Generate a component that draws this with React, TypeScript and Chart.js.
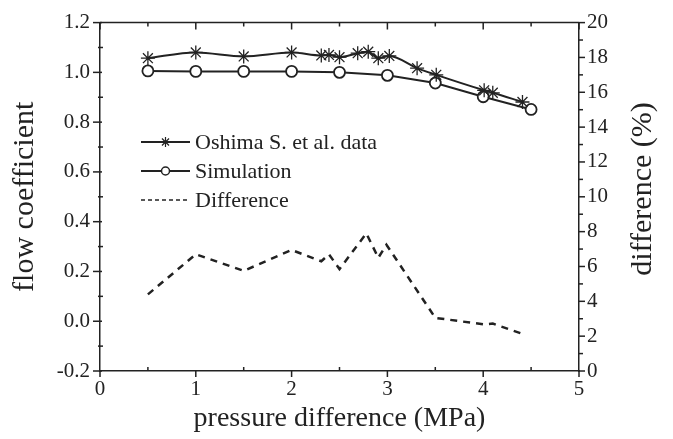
import React, { useEffect, useRef } from "react";
import { Chart, registerables } from "chart.js";

Chart.register(...registerables);

const pressureOshima = [0.5, 1.0, 1.5, 2.0, 2.31, 2.39, 2.5, 2.69, 2.8, 2.905, 3.02, 3.31, 3.51, 4.01, 4.1, 4.41];
const flowOshima = [1.057, 1.08, 1.064, 1.08, 1.068, 1.07, 1.061, 1.077, 1.083, 1.057, 1.066, 1.017, 0.99, 0.928, 0.918, 0.881];

const pressureSim = [0.5, 1.0, 1.5, 2.0, 2.5, 3.0, 3.5, 4.0, 4.5];
const flowSim = [1.006, 1.004, 1.004, 1.004, 1.0, 0.988, 0.957, 0.902, 0.851];

const pressureDiff = [0.5, 1.0, 1.5, 2.0, 2.31, 2.39, 2.5, 2.78, 2.905, 2.99, 3.5, 4.0, 4.1, 4.4];
const diffPct = [4.4, 6.7, 5.75, 6.95, 6.3, 6.7, 5.85, 7.9, 6.5, 7.25, 3.05, 2.68, 2.72, 2.15];

const legendLabels = ["Oshima S. et al. data", "Simulation", "Difference"];
const xTitle = "pressure difference (MPa)";
const yTitle = "flow coefficient";
const y1Title = "difference (%)";

const INK = "#222";
const FONT = "'Liberation Serif', 'Times New Roman', serif";

const zip = (xs: number[], ys: number[]) => xs.map((x, i) => ({ x, y: ys[i] }));

const decorPlugin = {
  id: "decor",
  afterDraw(chart: any) {
    const ctx = chart.ctx;
    const { x, y, y1 } = chart.scales;
    const area = chart.chartArea;
    ctx.save();
    ctx.strokeStyle = INK;
    ctx.lineWidth = 1.5;
    // top border
    ctx.beginPath();
    ctx.moveTo(area.left, area.top);
    ctx.lineTo(area.right, area.top);
    ctx.stroke();
    // x ticks (bottom & top)
    for (let i = 0; i <= 10; i++) {
      const v = i * 0.5;
      const px = x.getPixelForValue(v);
      const major = i % 2 === 0;
      ctx.beginPath();
      if (major) {
        ctx.moveTo(px, area.bottom);
        ctx.lineTo(px, area.bottom + 6);
        ctx.moveTo(px, area.top);
        ctx.lineTo(px, area.top + 7);
      } else {
        ctx.moveTo(px, area.bottom);
        ctx.lineTo(px, area.bottom - 4);
        ctx.moveTo(px, area.top);
        ctx.lineTo(px, area.top + 4);
      }
      ctx.stroke();
    }
    // left ticks
    for (let i = 0; i <= 14; i++) {
      const v = -0.2 + i * 0.1;
      const py = y.getPixelForValue(v);
      const major = i % 2 === 0;
      ctx.beginPath();
      if (major) {
        ctx.moveTo(area.left - 7, py);
        ctx.lineTo(area.left + 2, py);
      } else {
        ctx.moveTo(area.left - 2, py);
        ctx.lineTo(area.left + 3, py);
      }
      ctx.stroke();
    }
    // right ticks
    for (let i = 0; i <= 20; i++) {
      const py = y1.getPixelForValue(i);
      const major = i % 2 === 0;
      ctx.beginPath();
      ctx.moveTo(area.right, py);
      ctx.lineTo(area.right + (major ? 6 : 4), py);
      ctx.stroke();
    }
    // right axis title (reads bottom to top)
    ctx.save();
    ctx.translate(643, 189);
    ctx.rotate(-Math.PI / 2);
    ctx.font = `30px ${FONT}`;
    ctx.fillStyle = INK;
    ctx.textAlign = "center";
    ctx.textBaseline = "middle";
    ctx.fillText(y1Title, 0, 0);
    ctx.restore();
    // legend
    const rows = [142, 171, 200];
    const x0 = 141;
    const x1 = 190;
    const xm = (x0 + x1) / 2;
    ctx.font = `22px ${FONT}`;
    ctx.fillStyle = INK;
    ctx.textBaseline = "middle";
    ctx.textAlign = "left";
    rows.forEach((ry, i) => {
      ctx.beginPath();
      ctx.lineWidth = i === 2 ? 1.5 : 2;
      ctx.setLineDash(i === 2 ? [4, 3] : []);
      ctx.moveTo(x0, ry);
      ctx.lineTo(x1, ry);
      ctx.stroke();
      ctx.setLineDash([]);
      ctx.lineWidth = 1.2;
      if (i === 0) {
        const r = 5;
        ctx.beginPath();
        for (let k = 0; k < 4; k++) {
          const a = (k * Math.PI) / 4;
          ctx.moveTo(xm - r * Math.cos(a), ry - r * Math.sin(a));
          ctx.lineTo(xm + r * Math.cos(a), ry + r * Math.sin(a));
        }
        ctx.stroke();
      } else if (i === 1) {
        ctx.beginPath();
        ctx.arc(xm, ry, 4, 0, Math.PI * 2);
        ctx.fillStyle = "#fff";
        ctx.fill();
        ctx.lineWidth = 1.5;
        ctx.stroke();
        ctx.fillStyle = INK;
      }
      ctx.fillText(legendLabels[i], 195, ry + 1);
    });
    ctx.restore();
  },
};

export default function App() {
  const ref = useRef<HTMLCanvasElement>(null);
  useEffect(() => {
    document.body.style.margin = "0";
    const tickFont = { family: FONT, size: 21 };
    const chart = new Chart(ref.current as HTMLCanvasElement, {
      type: "line",
      data: {
        datasets: [
          {
            label: legendLabels[0],
            data: zip(pressureOshima, flowOshima),
            borderColor: INK,
            backgroundColor: INK,
            borderWidth: 2,
            pointStyle: "star",
            pointRadius: 7,
            pointBorderWidth: 1.3,
            pointBorderColor: INK,
            cubicInterpolationMode: "monotone",
            yAxisID: "y",
          },
          {
            label: legendLabels[1],
            data: zip(pressureSim, flowSim),
            borderColor: INK,
            backgroundColor: "#fff",
            borderWidth: 2,
            pointStyle: "circle",
            pointRadius: 5.5,
            pointBorderWidth: 1.8,
            pointBackgroundColor: "#fff",
            pointBorderColor: INK,
            tension: 0,
            yAxisID: "y",
          },
          {
            label: legendLabels[2],
            data: zip(pressureDiff, diffPct),
            borderColor: INK,
            borderWidth: 2.5,
            borderDash: [7, 6],
            pointRadius: 0,
            tension: 0,
            yAxisID: "y1",
          },
        ],
      },
      options: {
        animation: false,
        responsive: true,
        maintainAspectRatio: false,
        layout: { padding: { top: 19, left: 0, right: 0, bottom: 0 } },
        plugins: { legend: { display: false }, tooltip: { enabled: false } },
        scales: {
          x: {
            type: "linear",
            min: 0,
            max: 5,
            ticks: { stepSize: 1, font: tickFont, color: INK, padding: 6 },
            grid: { display: false, drawTicks: false },
            border: { display: true, color: INK, width: 1.5 },
            title: {
              display: true,
              text: xTitle,
              font: { family: FONT, size: 28 },
              color: INK,
              padding: { top: 0, bottom: 4 },
            },
            afterFit: (s: any) => {
              s.height = 68;
            },
          },
          y: {
            type: "linear",
            position: "left",
            min: -0.2,
            max: 1.2,
            ticks: {
              stepSize: 0.2,
              font: tickFont,
              color: INK,
              padding: 10,
              callback: (v: any) => {
                const n = Number(v);
                return (Math.abs(n) < 1e-9 ? 0 : n).toFixed(1);
              },
            },
            grid: { display: false, drawTicks: false },
            border: { display: true, color: INK, width: 1.5 },
            title: {
              display: true,
              text: yTitle,
              font: { family: FONT, size: 30 },
              color: INK,
              padding: { top: 7, bottom: 0 },
            },
            afterFit: (s: any) => {
              s.width = 100;
            },
          },
          y1: {
            type: "linear",
            position: "right",
            min: 0,
            max: 20,
            ticks: { stepSize: 2, font: tickFont, color: INK, padding: 8 },
            grid: { display: false, drawTicks: false },
            border: { display: true, color: INK, width: 1.5 },
            title: { display: false, text: y1Title },
            afterFit: (s: any) => {
              s.width = 94;
            },
          },
        },
      } as any,
      plugins: [decorPlugin],
    });
    return () => chart.destroy();
  }, []);
  return (
    <div style={{ position: "fixed", left: 0, top: 0, width: 673, height: 439, background: "#fff" }}>
      <canvas ref={ref} />
    </div>
  );
}
